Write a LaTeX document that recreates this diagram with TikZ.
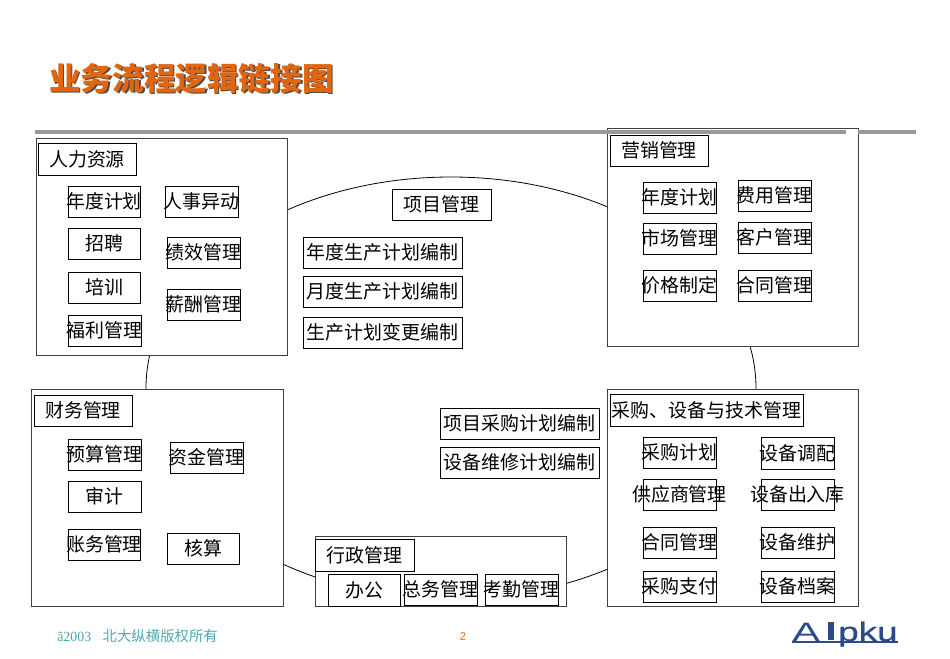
\documentclass[tikz,border=0pt]{standalone}
\usepackage{fontspec}
\setmainfont{Noto Sans CJK SC}
\newfontfamily\latinf{Liberation Sans}
\newfontfamily\logof[FakeBold=0.6]{Liberation Sans}
\usetikzlibrary{shapes.geometric}
\definecolor{titleorange}{HTML}{E2650F}
\definecolor{ruleg}{HTML}{999999}
\definecolor{footteal}{HTML}{4FA8AE}
\definecolor{logoblue}{HTML}{2A4A8A}
\tikzset{
  itembox/.style={draw=black,fill=white,line width=0.6pt,inner sep=0pt,font=\fontsize{14.2}{16}\selectfont},
  outerbox/.style={draw=black!75,fill=white,line width=0.65pt,inner sep=0pt},
  ring/.style={draw=black,line width=0.6pt,ellipse,inner sep=0pt,minimum width=457.5pt,minimum height=316.5pt},
}
\newcommand{\bx}[7][itembox]{%
  \node[#1,minimum width={(#5-#3)*0.75pt},minimum height={(#6-#4)*0.75pt}] (#2) at ({(#3+#5)/2},{(#4+#6)/2}) {\makebox[0pt]{\raisebox{-0.8pt}{#7}}};}
\begin{document}
\begin{tikzpicture}[x=0.75pt,y=-0.75pt]
\useasboundingbox (0,0) rectangle (950,658);
\node[text=black!70!white,font=\fontsize{23.7}{28}\bfseries\selectfont,inner sep=0pt] (titleshadow) at (193,80) {业务流程逻辑链接图};
\node[text=titleorange,font=\fontsize{23.7}{28}\bfseries\selectfont,inner sep=0pt] (title) at (191.5,78.5) {业务流程逻辑链接图};
\node[ring] (ring) at (451,388) {};
% outer boxes
\bx[outerbox]{hr}{36}{138}{287}{355}{}
\bx[outerbox]{mkt}{607}{128}{858}{346}{}
\bx[outerbox]{fin}{31}{389}{283}{606}{}
\bx[outerbox]{pur}{607}{389}{858}{606}{}
\bx[outerbox]{adm}{315}{536}{566}{606}{}
% rule
\fill[ruleg] (35,130) rectangle (846,134);
\fill[ruleg] (858,130) rectangle (916,134);
% HR
\bx{hrT}{38}{143}{136}{175}{人力资源}
\bx{a1}{68}{186}{140}{217}{年度计划}
\bx{a2}{165}{186}{238}{217}{人事异动}
\bx{a3}{68}{228}{140}{259}{招聘}
\bx{a4}{167}{237}{240}{268}{绩效管理}
\bx{a5}{68}{272}{140}{303}{培训}
\bx{a6}{167}{289}{240}{320}{薪酬管理}
\bx{a7}{68}{315}{141}{346}{福利管理}
% Marketing
\bx{mT}{610}{135}{708}{166}{营销管理}
\bx{m1}{643}{182}{716}{213}{年度计划}
\bx{m2}{738}{180}{811}{211}{费用管理}
\bx{m3}{643}{223}{716}{254}{市场管理}
\bx{m4}{738}{222}{811}{253}{客户管理}
\bx{m5}{643}{270}{716}{301}{价格制定}
\bx{m6}{738}{270}{811}{301}{合同管理}
% Project
\bx{pT}{392}{189}{491}{220}{项目管理}
\bx{p1}{303}{237}{462}{268}{年度生产计划编制}
\bx{p2}{303}{276}{462}{307}{月度生产计划编制}
\bx{p3}{303}{317}{462}{348}{生产计划变更编制}
% Finance
\bx{fT}{34}{395}{132}{426}{财务管理}
\bx{f1}{68}{439}{141}{470}{预算管理}
\bx{f2}{170}{442}{243}{473}{资金管理}
\bx{f3}{68}{481}{141}{512}{审计}
\bx{f4}{68}{529}{140}{560}{账务管理}
\bx{f5}{167}{533}{239}{564}{核算}
% Middle
\bx{q1}{440}{408}{599}{439}{项目采购计划编制}
\bx{q2}{440}{447}{599}{478}{设备维修计划编制}
% Purchasing
\bx{uT}{610}{394}{803}{426}{采购、设备与技术管理}
\bx{u1}{643}{437}{716}{468}{采购计划}
\bx{u2}{761}{437}{834}{469}{设备调配}
\bx{u3}{643}{479}{716}{510}{供应商管理}
\bx{u4}{761}{479}{834}{510}{设备出入库}
\bx{u5}{643}{527}{716}{558}{合同管理}
\bx{u6}{761}{527}{834}{558}{设备维护}
\bx{u7}{643}{571}{716}{602}{采购支付}
\bx{u8}{761}{571}{834}{602}{设备档案}
% Admin
\bx{dT}{315}{539}{414}{571}{行政管理}
\bx{d1}{328}{574}{400}{606}{办公}
\bx{d2}{404}{574}{477}{605}{总务管理}
\bx{d3}{485}{574}{558}{605}{考勤管理}
% Footer
\node[anchor=west,text=footteal,inner sep=0pt,font=\fontsize{10.5}{11}\selectfont] (foot) at (57,636) {\fontspec{Liberation Serif}ã2003\hspace{0.8em}\normalfont\fontsize{10.8}{11}\selectfont 北大纵横版权所有};
\node[text=orange!90!black,inner sep=0pt,font=\latinf\fontsize{8.5}{10}\selectfont] (pg) at (463,637) {2};
% Logo
\node[anchor=base west,text=logoblue,inner sep=0pt,font=\latinf\fontsize{20}{22}\selectfont] (logoA) at (792,641) {\scalebox{1.55}[1]{A}};
\fill[logoblue] (828,622) rectangle (834,640);
\node[anchor=base west,text=logoblue,inner sep=0pt,font=\logof\fontsize{20}{22}\selectfont] (logoB) at (838,641) {\scalebox{1.38}[1]{pku}};
\fill[logoblue] (792,641) rectangle (898,643);
\end{tikzpicture}
\end{document}
